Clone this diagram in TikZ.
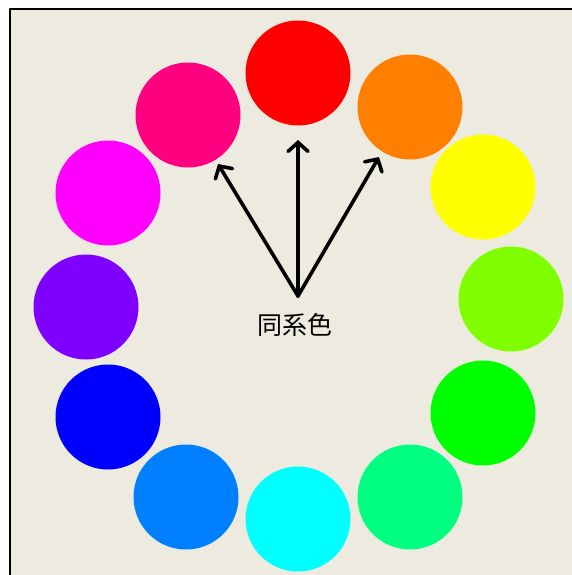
\documentclass[tikz,border=0pt]{standalone}
\usepackage{fontspec}
\newfontfamily\cjk{Noto Sans CJK JP}
\usetikzlibrary{arrows.meta}
\definecolor{bgpaper}{RGB}{237,235,224}
\definecolor{hueR}{RGB}{255,0,0}
\definecolor{hueO}{RGB}{255,128,0}
\definecolor{hueY}{RGB}{255,255,0}
\definecolor{hueYG}{RGB}{128,255,0}
\definecolor{hueG}{RGB}{0,255,0}
\definecolor{hueSG}{RGB}{0,255,128}
\definecolor{hueC}{RGB}{0,255,255}
\definecolor{hueAz}{RGB}{0,128,255}
\definecolor{hueB}{RGB}{0,0,255}
\definecolor{hueV}{RGB}{128,0,255}
\definecolor{hueM}{RGB}{255,0,255}
\definecolor{hueRo}{RGB}{255,0,128}
\tikzset{huedot/.style={circle,inner sep=0pt,minimum size=105pt},
  pointer/.style={line width=3.6pt,line cap=round,line join=round,-{Straight Barb[length=9pt,width=20pt,line cap=round]}}}

\begin{document}
\begin{tikzpicture}[line cap=round,line join=round,x=1pt,y=-1pt]
\useasboundingbox (0,0) rectangle (572,575);
\fill[white] (0,0) rectangle (572,575);
\fill[bgpaper] (10,9) rectangle (572,575);
\draw[line width=2pt,line cap=butt] (10,575) -- (10,9) -- (572,9);
% colour circle
\foreach \nm/\x/\y/\c in {r/298/73/hueR,o/410/107/hueO,y/483/187/hueY,yg/511/299/hueYG,
  g/483/413/hueG,sg/410/497/hueSG,c/298/519/hueC,az/186/497/hueAz,
  b/108/417/hueB,v/86/307/hueV,m/108/193/hueM,ro/188/115/hueRo}
\node[huedot,fill=\c] (\nm) at (\x,\y) {};
\node (lbl) at (295,325) {\cjk\fontsize{25pt}{25pt}\selectfont 同系色};
\coordinate (src) at (298,296);
\coordinate (tipL) at (218,164);
\coordinate (tipM) at (298,140);
\coordinate (tipR) at (379,157);
\draw[pointer] (src) -- (tipL);
\draw[pointer] (src) -- (tipM);
\draw[pointer] (src) -- (tipR);
\end{tikzpicture}
\end{document}
